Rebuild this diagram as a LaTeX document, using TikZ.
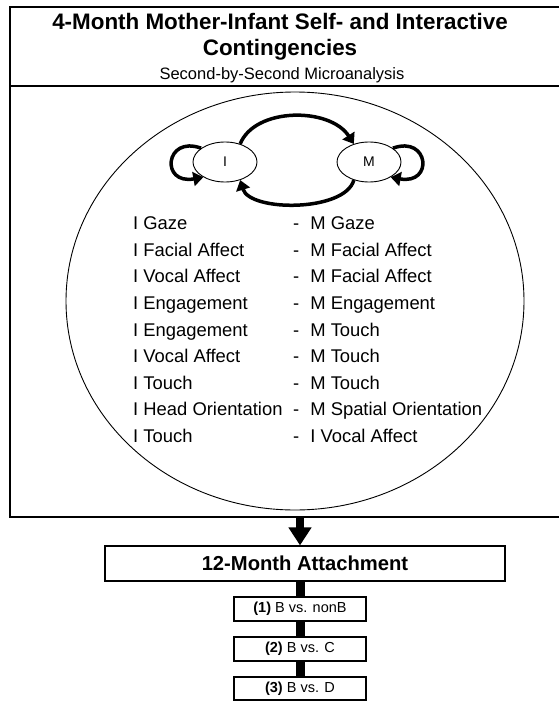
\documentclass[tikz,border=0pt]{standalone}
\usepackage{fontspec}
\setmainfont{Liberation Sans}
\usetikzlibrary{shapes.geometric,arrows.meta}

\begin{document}
\begin{tikzpicture}%
[x=1pt,y=-1pt,every node/.style={inner sep=0pt},
boxline/.style={rectangle,draw=black,line width=1.2pt},
rowtext/.style={anchor=west,text height=13.2pt,text depth=0pt,
font=\fontsize{18.4}{22}\selectfont},
bendarrow/.style={line width=3.5pt,-{Triangle[length=10pt,width=14pt]}},
rung/.style={line width=9pt},
cmpbox/.style={boxline,minimum width=132pt,minimum height=24pt,
font=\fontsize{14.5}{17}\selectfont},
partner/.style={ellipse,draw=black,line width=0.9pt,minimum width=64pt,
minimum height=40pt,font=\fontsize{14}{16}\selectfont}]
\useasboundingbox (0,0) rectangle (558,701);
\node (titlebox) at (285,46.5) [boxline, minimum width=550pt,
minimum height=79pt] {};
\node (titletext) at (280,37) [align=center,
font=\bfseries\fontsize{22.4}{26}\selectfont]
{4-Month Mother-Infant Self- and Interactive\\Contingencies};
\node (subtitle) at (282,75) [font=\fontsize{16.5}{19}\selectfont]
{Second-by-Second Microanalysis};
\node (mainbox) at (285,301.5) [boxline, minimum width=550pt,
minimum height=431pt] {};
\node (oval) at (295,301) [ellipse, draw=black, line width=0.9pt,
minimum width=458pt, minimum height=418pt] {};
\node (inf) at (225,162) [partner] {I};
\node (mom) at (369,162) [partner] {M};
\draw [bendarrow] (inf.50) .. controls (255,107) and (330,107) .. (mom.130);
\draw [bendarrow] (mom.230) .. controls (345,212) and (250,212) .. (inf.310);
\draw [bendarrow] (inf.150) .. controls (165,135) and (160,185) .. (inf.215);
\draw [bendarrow] (mom.30) .. controls (429,135) and (434,185) .. (mom.325);
\node (l1) at (133,223) [rowtext] {I Gaze};
\node (r1) at (293,223) [rowtext] {-\hspace{11pt}M Gaze};
\node (l2) at (133,249.6) [rowtext] {I Facial Affect};
\node (r2) at (293,249.6) [rowtext] {-\hspace{11pt}M Facial Affect};
\node (l3) at (133,276.2) [rowtext] {I Vocal Affect};
\node (r3) at (293,276.2) [rowtext] {-\hspace{11pt}M Facial Affect};
\node (l4) at (133,302.8) [rowtext] {I Engagement};
\node (r4) at (293,302.8) [rowtext] {-\hspace{11pt}M Engagement};
\node (l5) at (133,329.4) [rowtext] {I Engagement};
\node (r5) at (293,329.4) [rowtext] {-\hspace{11pt}M Touch};
\node (l6) at (133,356) [rowtext] {I Vocal Affect};
\node (r6) at (293,356) [rowtext] {-\hspace{11pt}M Touch};
\node (l7) at (133,382.6) [rowtext] {I Touch};
\node (r7) at (293,382.6) [rowtext] {-\hspace{11pt}M Touch};
\node (l8) at (133,409.2) [rowtext] {I Head Orientation};
\node (r8) at (293,409.2) [rowtext] {-\hspace{11pt}M Spatial Orientation};
\node (l9) at (133,435.8) [rowtext] {I Touch};
\node (r9) at (293,435.8) [rowtext] {-\hspace{11pt}I Vocal Affect};
\node (attach) at (305,563.5) [boxline, minimum width=400pt,
minimum height=35pt, font=\bfseries\fontsize{20.2}{24}\selectfont]
{12-Month Attachment};
\node (cmp1) at (300,609) [cmpbox] {\textbf{(1)} B vs. nonB};
\node (cmp2) at (300,649) [cmpbox] {\textbf{(2)} B vs. C};
\node (cmp3) at (300,688.5) [cmpbox, minimum height=23pt]
{\textbf{(3)} B vs. D};
\draw [line width=8pt,-{Triangle[length=18pt,width=22pt]}]
(mainbox.south -| cmp1) -- (attach.north -| cmp1);
\draw [rung] (attach.south -| cmp1) -- (cmp1.north);
\draw [rung] (cmp1.south) -- (cmp2.north);
\draw [rung] (cmp2.south) -- (cmp3.north);
\end{tikzpicture}
\end{document}
